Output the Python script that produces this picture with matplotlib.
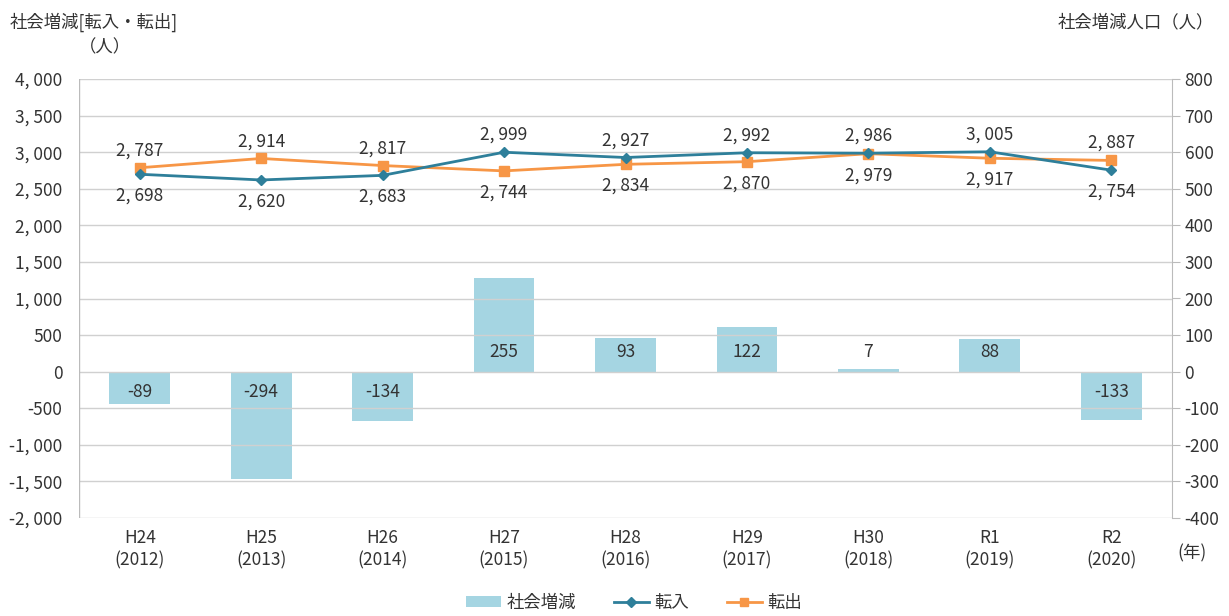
import matplotlib
matplotlib.use("Agg")
import matplotlib.pyplot as plt
from matplotlib.lines import Line2D
from matplotlib.patches import Patch
import numpy as np

plt.rcParams['font.family'] = ['Noto Sans CJK JP', 'DejaVu Sans']

categories = ["H24\n(2012)", "H25\n(2013)", "H26\n(2014)", "H27\n(2015)", "H28\n(2016)",
              "H29\n(2017)", "H30\n(2018)", "R1\n(2019)", "R2\n(2020)"]
tennyu = [2698, 2620, 2683, 2999, 2927, 2992, 2986, 3005, 2754]
tenshutsu = [2787, 2914, 2817, 2744, 2834, 2870, 2979, 2917, 2887]
shakai = [-89, -294, -134, 255, 93, 122, 7, 88, -133]
left_ticks = [-2000, -1500, -1000, -500, 0, 500, 1000, 1500, 2000, 2500, 3000, 3500, 4000]
right_ticks = [-400, -300, -200, -100, 0, 100, 200, 300, 400, 500, 600, 700, 800]

c_bar = "#A5D5E2"
c_in = "#2E7F9A"
c_out = "#F79646"
tc = "#333333"
fs = 12.5

fig = plt.figure(figsize=(12.29, 6.16), dpi=100)
ax = fig.add_axes([79/1229, 1-518/616, (1172-79)/1229, (518-79)/616])
ax2 = ax.twinx()

x = np.arange(len(categories))

def fmt(v):
    return f"{v:,}".replace(",", ", ")

# bars on secondary axis
ax2.bar(x, shakai, width=0.5, color=c_bar, zorder=2)
ax2.set_ylim(-400, 800)
ax2.set_yticks(right_ticks)
ax2.set_yticklabels([fmt(v) for v in right_ticks])

# lines on primary axis, drawn above bars
ax.set_zorder(ax2.get_zorder() + 1)
ax.patch.set_visible(False)
ax.plot(x, tennyu, color=c_in, marker="D", markersize=5, lw=2, zorder=4)
ax.plot(x, tenshutsu, color=c_out, marker="s", markersize=7, lw=2, zorder=3)
ax.set_ylim(-2000, 4000)
ax.set_yticks(left_ticks)
ax.set_yticklabels([fmt(v) for v in left_ticks])
ax.set_xlim(-0.5, len(categories) - 0.5)
ax.set_xticks(x)
ax.set_xticklabels(categories, linespacing=1.3)

for a in (ax, ax2):
    a.tick_params(colors=tc, labelsize=fs, length=0)
    for s in a.spines.values():
        s.set_visible(False)
ax.tick_params(axis='y', pad=12)
ax.tick_params(axis='x', pad=8)
ax2.tick_params(axis='y', pad=3, length=6, direction='out', color="#BBBBBB", labelcolor=tc)

# grid
for v in left_ticks:
    ax.axhline(v, color="#D0D0D0", lw=1, zorder=0)
ax.axvline(-0.5, color="#BBBBBB", lw=1, zorder=0)
ax2.spines['right'].set_visible(True)
ax2.spines['right'].set_color("#BBBBBB")

# data labels for lines
for i in range(len(x)):
    a, b = tennyu[i], tenshutsu[i]
    hi, lo = (a, b) if a >= b else (b, a)
    ax.annotate(fmt(hi), (x[i], hi), xytext=(0, 6), textcoords="offset points",
                ha="center", va="bottom", fontsize=fs, color=tc)
    ax.annotate(fmt(lo), (x[i], lo), xytext=(0, -9), textcoords="offset points",
                ha="center", va="top", fontsize=fs, color=tc)

# bar labels
for i, v in enumerate(shakai):
    off = 14.5 if v >= 0 else -14.5
    ax2.annotate(str(v), (x[i], 0), xytext=(0, off), textcoords="offset points",
                 ha="center", va="center", fontsize=fs, color=tc, zorder=5)

# titles
fig.text(10/1229, 1-22/616, "社会増減[転入・転出]", fontsize=fs, color=tc, ha="left", va="center")
fig.text(105/1229, 1-47/616, "（人）", fontsize=fs, color=tc, ha="center", va="center")
fig.text(1214/1229, 1-22/616, "社会増減人口（人）", fontsize=fs, color=tc, ha="right", va="center")
fig.text(1192/1229, 1-553/616, "(年)", fontsize=fs, color=tc, ha="center", va="center")

handles = [Patch(facecolor=c_bar, edgecolor="none"),
           Line2D([0], [0], color=c_in, marker="D", markersize=5, lw=2),
           Line2D([0], [0], color=c_out, marker="s", markersize=6, lw=2)]
fig.legend(handles, ["社会増減", "転入", "転出"], loc="center", bbox_to_anchor=(634/1229, 1-603/616),
           ncol=3, frameon=False, fontsize=fs, handlelength=2.0, columnspacing=2.2,
           handletextpad=0.3, labelcolor=tc, handleheight=0.6)

fig.savefig("out.png", dpi=100)
